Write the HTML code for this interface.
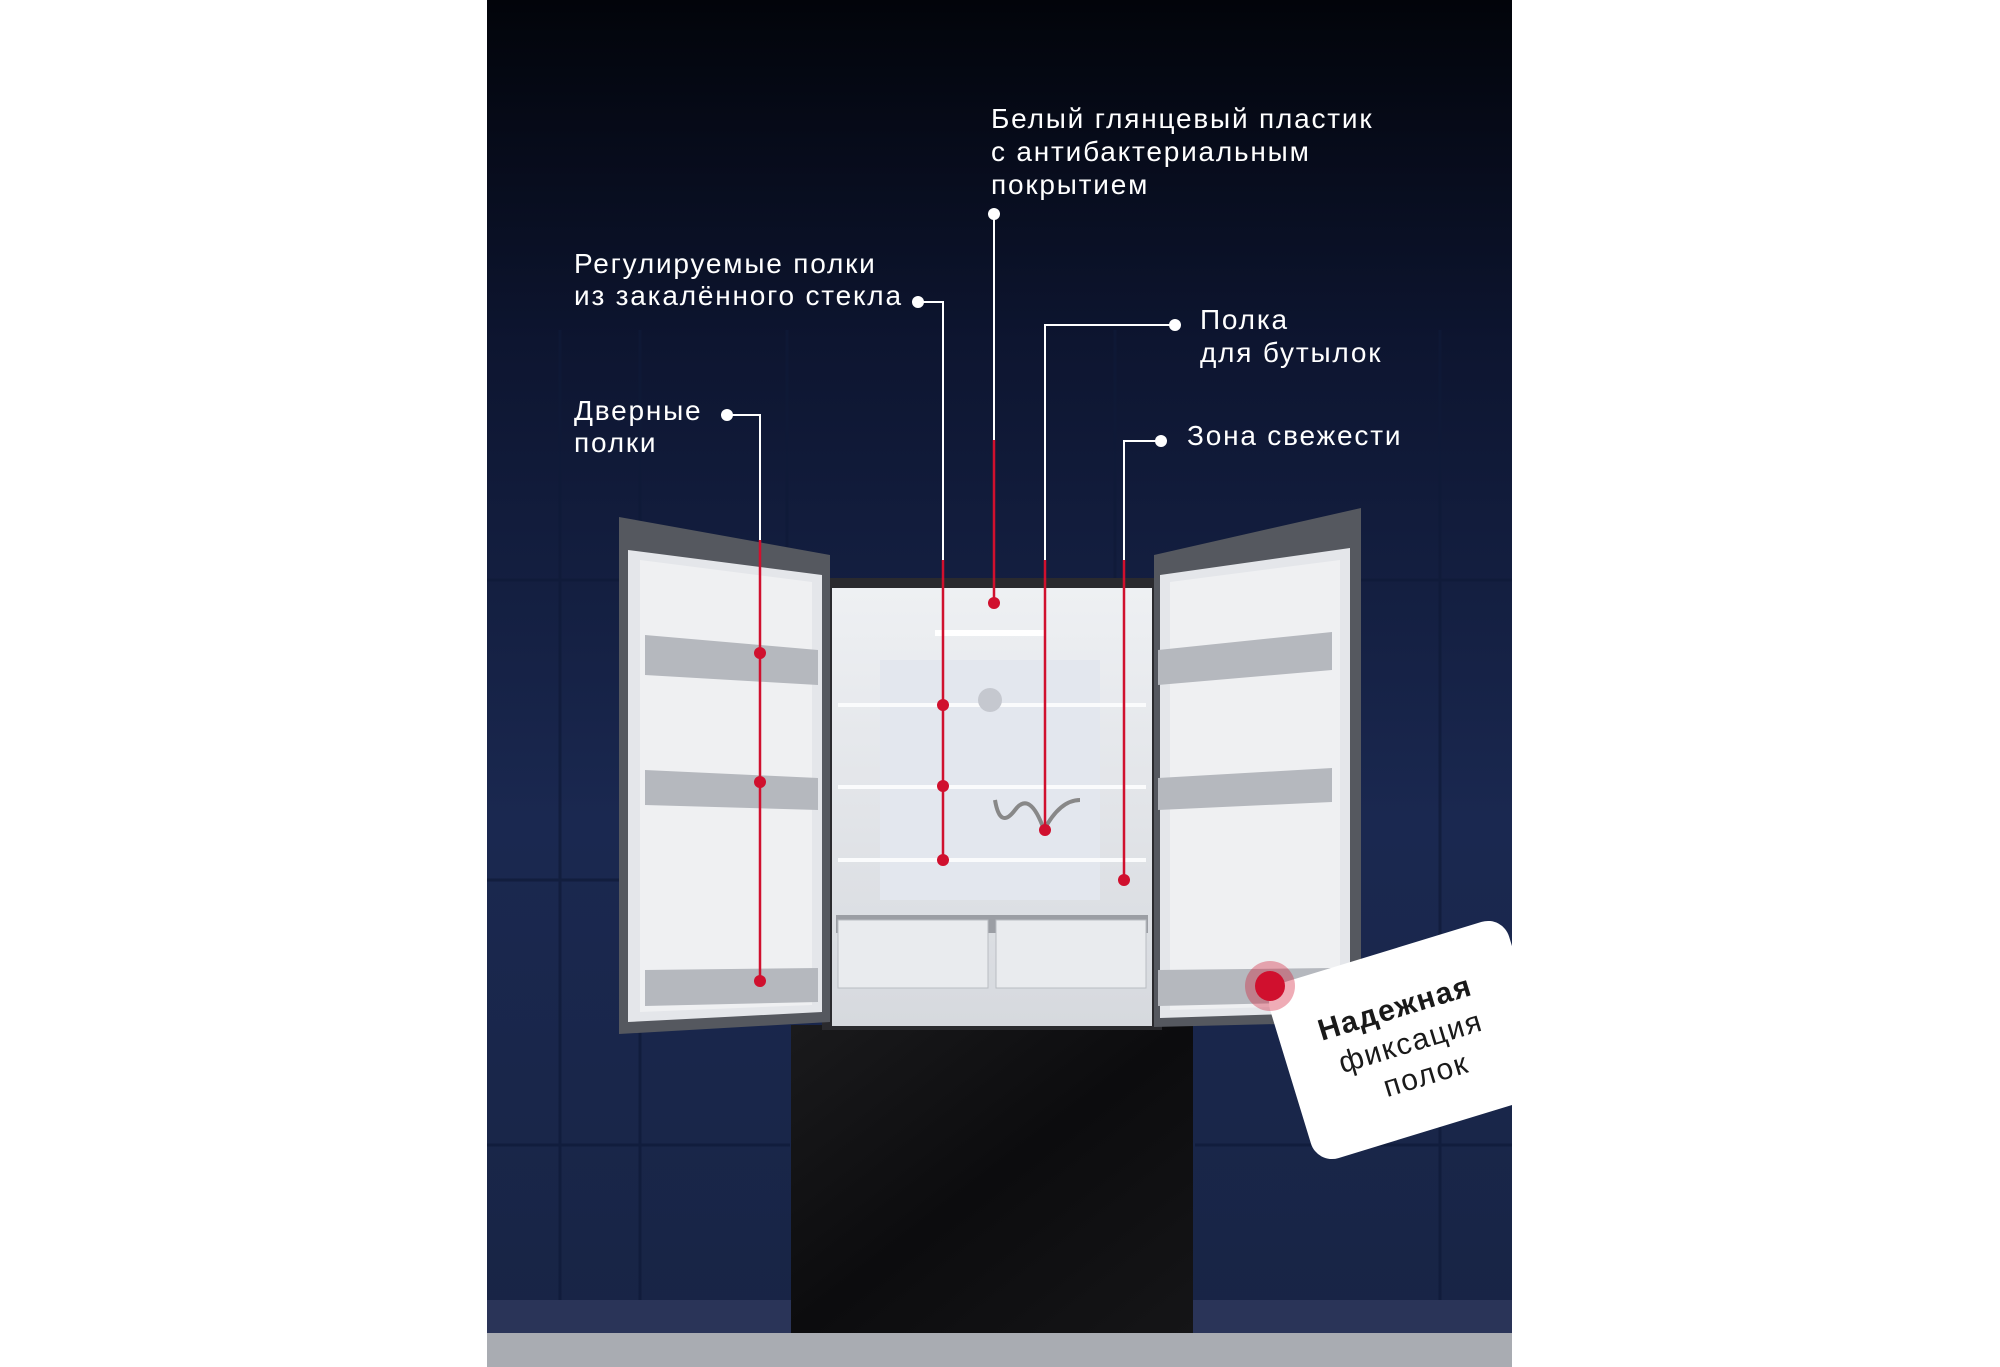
<!DOCTYPE html>
<html><head><meta charset="utf-8"><style>
html,body{margin:0;padding:0;background:#fff;width:2000px;height:1367px;overflow:hidden}
svg{display:block}
text{font-family:"Liberation Sans",sans-serif}
</style></head><body>
<svg width="2000" height="1367" viewBox="0 0 2000 1367" xmlns="http://www.w3.org/2000/svg">
<defs>
<linearGradient id="bg" x1="0" y1="0" x2="0" y2="1">
<stop offset="0" stop-color="#02040a"/><stop offset="0.25" stop-color="#0d1530"/><stop offset="0.6" stop-color="#1a2850"/><stop offset="1" stop-color="#182444"/></linearGradient>
<linearGradient id="inner" x1="0" y1="0" x2="0" y2="1"><stop offset="0" stop-color="#eef0f3"/><stop offset="1" stop-color="#d6d9de"/></linearGradient>
<linearGradient id="frz" x1="0" y1="0" x2="1" y2="1"><stop offset="0" stop-color="#1a1a1c"/><stop offset="0.5" stop-color="#0c0c0e"/><stop offset="1" stop-color="#151517"/></linearGradient>
<clipPath id="pc"><rect x="487" y="0" width="1025" height="1367"/></clipPath>
</defs>
<rect x="487" y="0" width="1025" height="1367" fill="url(#bg)"/>
<g stroke="#0f1a38" stroke-width="3" opacity="0.7">
<line x1="560" y1="330" x2="560" y2="1300"/><line x1="640" y1="330" x2="640" y2="1300"/><line x1="787" y1="330" x2="787" y2="580"/><line x1="1115" y1="330" x2="1115" y2="580"/><line x1="1440" y1="330" x2="1440" y2="1300"/>
<line x1="487" y1="580" x2="1512" y2="580"/><line x1="487" y1="880" x2="640" y2="880"/><line x1="487" y1="1145" x2="790" y2="1145"/><line x1="1195" y1="1145" x2="1512" y2="1145"/>
</g>
<rect x="487" y="1300" width="1025" height="33" fill="#2a3458"/>
<rect x="487" y="1333" width="1025" height="34" fill="#a9acb2"/>
<rect x="791" y="1025" width="402" height="308" fill="url(#frz)"/>
<rect x="822" y="578" width="340" height="452" fill="#2a2a2e"/>
<rect x="832" y="588" width="320" height="438" fill="url(#inner)"/>
<rect x="880" y="660" width="220" height="240" fill="#e3e7ee"/>
<g stroke="#fafbfc" stroke-width="4"><line x1="838" y1="705" x2="1146" y2="705"/><line x1="838" y1="787" x2="1146" y2="787"/><line x1="838" y1="860" x2="1146" y2="860"/></g>
<rect x="935" y="630" width="110" height="6" fill="#fff"/>
<circle cx="990" cy="700" r="12" fill="#c5c8cf"/>
<rect x="836" y="915" width="312" height="18" fill="#9b9ea4"/>
<rect x="838" y="920" width="150" height="68" fill="#e9ebee" stroke="#b9bcc2"/>
<rect x="996" y="920" width="150" height="68" fill="#e9ebee" stroke="#b9bcc2"/>
<path d="M995 800 Q1000 830 1015 810 Q1030 790 1044 830 Q1060 800 1080 800" stroke="#888" stroke-width="4" fill="none"/>
<polygon points="619,517 830,555 830,1022 619,1034" fill="#55585f"/>
<polygon points="628,550 822,575 822,1012 628,1022" fill="#e4e6ea"/>
<polygon points="640,560 812,582 812,1005 640,1012" fill="#eff0f2"/>
<g fill="#b5b8be"><polygon points="645,635 818,650 818,685 645,675"/><polygon points="645,770 818,778 818,810 645,805"/><polygon points="645,970 818,968 818,1002 645,1006"/></g>
<polygon points="1154,555 1361,508 1361,1022 1154,1027" fill="#55585f"/>
<polygon points="1160,575 1350,548 1350,1012 1160,1018" fill="#e4e6ea"/>
<polygon points="1170,582 1340,560 1340,1005 1170,1010" fill="#eff0f2"/>
<g fill="#b5b8be"><polygon points="1158,650 1332,632 1332,670 1158,685"/><polygon points="1158,778 1332,768 1332,802 1158,810"/><polygon points="1158,970 1332,968 1332,1002 1158,1006"/></g>
<g stroke="#fff" stroke-width="2" fill="none">
<line x1="994" y1="214" x2="994" y2="440"/>
<polyline points="918,302 943,302 943,560"/>
<polyline points="1175,325 1045,325 1045,560"/>
<polyline points="1161,441 1124,441 1124,560"/>
<polyline points="727,415 760,415 760,540"/>
</g>
<g stroke="#d0102e" stroke-width="2.5" fill="none">
<line x1="994" y1="440" x2="994" y2="603"/>
<line x1="943" y1="560" x2="943" y2="860"/>
<line x1="1045" y1="560" x2="1045" y2="830"/>
<line x1="1124" y1="560" x2="1124" y2="880"/>
<line x1="760" y1="540" x2="760" y2="981"/>
</g>
<g fill="#fff"><circle cx="994" cy="214" r="6"/><circle cx="918" cy="302" r="6"/><circle cx="1175" cy="325" r="6"/><circle cx="1161" cy="441" r="6"/><circle cx="727" cy="415" r="6"/></g>
<g fill="#d0102e"><circle cx="994" cy="603" r="6"/><circle cx="943" cy="705" r="6"/><circle cx="943" cy="786" r="6"/><circle cx="943" cy="860" r="6"/><circle cx="1045" cy="830" r="6"/><circle cx="1124" cy="880" r="6"/><circle cx="760" cy="653" r="6"/><circle cx="760" cy="782" r="6"/><circle cx="760" cy="981" r="6"/></g>
<g fill="#fff" font-size="28" letter-spacing="1.8">
<text x="991" y="128">Белый глянцевый пластик</text>
<text x="991" y="161">с антибактериальным</text>
<text x="991" y="194">покрытием</text>
<text x="574" y="273">Регулируемые полки</text>
<text x="574" y="305">из закалённого стекла</text>
<text x="1200" y="329">Полка</text>
<text x="1200" y="362">для бутылок</text>
<text x="1187" y="445">Зона свежести</text>
<text x="574" y="420">Дверные</text>
<text x="574" y="452">полки</text>
</g>
<g clip-path="url(#pc)">
<g transform="translate(1410,1040) rotate(-17)">
<rect x="-125" y="-92" width="250" height="184" rx="22" fill="#fff"/>
<text x="-5" y="-25" text-anchor="middle" font-size="30" font-weight="bold" fill="#1a1a1a" letter-spacing="1.5">Надежная</text>
<text x="0" y="12" text-anchor="middle" font-size="30" fill="#1a1a1a" letter-spacing="1.5">фиксация</text>
<text x="5" y="48" text-anchor="middle" font-size="30" fill="#1a1a1a" letter-spacing="1.5">полок</text>
</g>
</g>
<circle cx="1270" cy="986" r="25" fill="#d0102e" opacity="0.35"/>
<circle cx="1270" cy="986" r="15" fill="#d0102e"/>
</svg>
</body></html>
